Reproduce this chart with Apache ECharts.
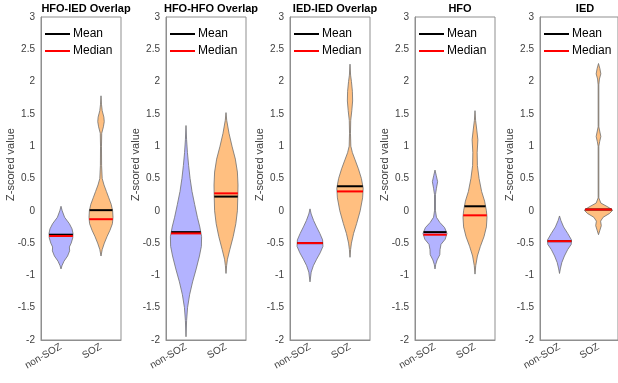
<!DOCTYPE html>
<html>
<head>
<meta charset="utf-8">
<script src="https://cdn.jsdelivr.net/npm/echarts@6/dist/echarts.min.js"></script>
<style>
  html, body { margin: 0; padding: 0; background: #fff; }
  #chart { width: 618px; height: 383px; }
</style>
</head>
<body>
<div id="chart"></div>
<script>
// panel titles and groups
const titles = ['HFO-IED Overlap', 'HFO-HFO Overlap', 'IED-IED Overlap', 'HFO', 'IED'];
const groups = ['non-SOZ', 'SOZ'];

// mean / median per panel: [non-SOZ, SOZ]
const means = [[-0.37, 0.01], [-0.33, 0.22], [-0.50, 0.38], [-0.33, 0.07], [-0.47, 0.02]];
const medians = [[-0.39, -0.13], [-0.35, 0.27], [-0.50, 0.30], [-0.37, -0.07], [-0.47, 0.02]];

// violin outlines: [z value, relative density]
const hfoIedNon = [[0.07, 0], [0.0, 0.1], [-0.1, 0.3], [-0.2, 0.7], [-0.28, 0.92], [-0.35, 1.0], [-0.42, 0.98],
  [-0.5, 0.85], [-0.56, 0.7], [-0.62, 0.72], [-0.7, 0.55], [-0.78, 0.25], [-0.85, 0.08], [-0.9, 0]];
const hfoIedSoz = [[1.78, 0], [1.65, 0.04], [1.55, 0.1], [1.45, 0.24], [1.38, 0.27], [1.3, 0.2], [1.2, 0.06],
  [1.0, 0.04], [0.7, 0.05], [0.5, 0.1], [0.4, 0.25], [0.3, 0.45], [0.2, 0.65], [0.1, 0.85], [0.0, 0.97],
  [-0.1, 1.0], [-0.2, 0.95], [-0.3, 0.75], [-0.4, 0.5], [-0.5, 0.28], [-0.6, 0.1], [-0.7, 0]];
const hfoHfoNon = [[1.32, 0], [1.1, 0.05], [0.9, 0.12], [0.7, 0.22], [0.5, 0.34], [0.3, 0.5], [0.1, 0.72],
  [-0.1, 0.95], [-0.25, 1.15], [-0.4, 1.3], [-0.55, 1.28], [-0.7, 1.12], [-0.9, 0.85], [-1.1, 0.55],
  [-1.3, 0.3], [-1.5, 0.13], [-1.7, 0.05], [-1.95, 0]];
const hfoHfoSoz = [[1.52, 0], [1.4, 0.06], [1.2, 0.25], [1.0, 0.5], [0.8, 0.78], [0.6, 0.95], [0.4, 1.0],
  [0.2, 0.98], [0.0, 0.95], [-0.2, 0.82], [-0.4, 0.6], [-0.6, 0.32], [-0.75, 0.12], [-0.85, 0.05], [-0.97, 0]];
const iedIedNon = [[0.03, 0], [-0.05, 0.1], [-0.15, 0.3], [-0.25, 0.55], [-0.35, 0.82], [-0.45, 1.05],
  [-0.55, 1.08], [-0.65, 0.85], [-0.75, 0.55], [-0.85, 0.28], [-0.95, 0.1], [-1.1, 0]];
const iedIedSoz = [[2.27, 0], [2.1, 0.05], [2.0, 0.12], [1.85, 0.2], [1.7, 0.22], [1.55, 0.15], [1.4, 0.06],
  [1.2, 0.04], [1.0, 0.07], [0.9, 0.2], [0.8, 0.4], [0.65, 0.7], [0.5, 0.95], [0.35, 1.1], [0.2, 1.05],
  [0.0, 0.85], [-0.2, 0.55], [-0.35, 0.3], [-0.5, 0.12], [-0.6, 0.05], [-0.72, 0]];
const hfoNon = [[0.63, 0], [0.55, 0.1], [0.45, 0.22], [0.35, 0.12], [0.25, 0.04], [0.0, 0.04],
  [-0.1, 0.12], [-0.18, 0.4], [-0.26, 0.8], [-0.35, 1.0], [-0.44, 0.85], [-0.52, 0.5], [-0.6, 0.42],
  [-0.68, 0.4], [-0.76, 0.18], [-0.83, 0.06], [-0.9, 0]];
const hfoSoz = [[1.55, 0], [1.4, 0.05], [1.25, 0.15], [1.1, 0.24], [0.9, 0.18], [0.7, 0.2], [0.5, 0.34],
  [0.3, 0.55], [0.15, 0.8], [0.0, 0.95], [-0.1, 1.0], [-0.25, 0.95], [-0.4, 0.75], [-0.55, 0.45],
  [-0.7, 0.2], [-0.85, 0.06], [-0.98, 0]];
const iedNon = [[-0.08, 0], [-0.15, 0.12], [-0.25, 0.35], [-0.35, 0.7], [-0.45, 1.02], [-0.52, 1.0],
  [-0.6, 0.7], [-0.7, 0.42], [-0.8, 0.2], [-0.9, 0.07], [-0.97, 0]];
const iedSoz = [[2.28, 0], [2.2, 0.12], [2.12, 0.2], [2.04, 0.08], [1.95, 0.03], [1.3, 0.03], [1.22, 0.12],
  [1.15, 0.2], [1.07, 0.1], [1.0, 0.03], [0.2, 0.03], [0.12, 0.2], [0.06, 0.8], [0.01, 1.22], [-0.04, 0.95],
  [-0.1, 0.4], [-0.16, 0.18], [-0.23, 0.24], [-0.3, 0.12], [-0.37, 0]];

const profiles = [
  [hfoIedNon, hfoIedSoz],
  [hfoHfoNon, hfoHfoSoz],
  [iedIedNon, iedIedSoz],
  [hfoNon, hfoSoz],
  [iedNon, iedSoz]
];

const fillColors = ['#b3b3ff', '#ffbf80'];
const widthScale = 0.3; // fraction of the category band at density 1
const font = "'Liberation Sans', Arial, sans-serif";

const gridLefts = [41, 166, 290, 415, 540];
const gridTop = 17;
const gridWidth = 80;
const gridHeight = 323;

function densityAt(profile, y) {
  for (let i = 0; i < profile.length - 1; i++) {
    const a = profile[i], b = profile[i + 1];
    if (y <= a[0] && y >= b[0]) {
      const t = (a[0] - y) / (a[0] - b[0]);
      return a[1] + t * (b[1] - a[1]);
    }
  }
  return 0;
}

function violinRenderer(panel) {
  return function (params, api) {
    const idx = api.value(0);
    const prof = profiles[panel][idx];
    const band = api.size([1, 0])[0];
    const cx = api.coord([idx, 0])[0];
    const left = prof.map(([y, w]) => [cx - w * widthScale * band, api.coord([idx, y])[1]]);
    const right = prof.map(([y, w]) => [cx + w * widthScale * band, api.coord([idx, y])[1]]).reverse();
    return {
      type: 'polygon',
      shape: { points: left.concat(right) },
      style: { fill: fillColors[idx], stroke: '#6e6e6e', lineWidth: 0.8 }
    };
  };
}

function statRenderer(panel) {
  return function (params, api) {
    const idx = api.value(0);
    const y = api.value(1);
    const band = api.size([1, 0])[0];
    const half = densityAt(profiles[panel][idx], y) * widthScale * band;
    const p = api.coord([idx, y]);
    return {
      type: 'line',
      shape: { x1: p[0] - half, y1: p[1], x2: p[0] + half, y2: p[1] },
      style: { stroke: api.visual('color'), lineWidth: 2 }
    };
  };
}

const grids = [], xAxes = [], yAxes = [], series = [], titleList = [], legends = [];

titles.forEach((t, i) => {
  grids.push({
    left: gridLefts[i], top: gridTop, width: gridWidth, height: gridHeight,
    show: true, borderColor: '#8f8f8f', borderWidth: 1, backgroundColor: '#fff'
  });
  xAxes.push({
    type: 'category', gridIndex: i, data: groups,
    axisLine: { onZero: false, lineStyle: { color: '#8f8f8f' } },
    axisTick: { show: false },
    axisLabel: { rotate: 30, fontSize: 10, color: '#404040', fontFamily: font, margin: 6 }
  });
  yAxes.push({
    type: 'value', gridIndex: i, min: -2, max: 3, interval: 0.5,
    name: 'Z-scored value', nameLocation: 'middle', nameGap: 25, nameMoveOverlap: false,
    nameTextStyle: { fontSize: 11, color: '#404040', fontFamily: font, padding: [0, 0, 0, 28] },
    axisLine: { show: true, lineStyle: { color: '#8f8f8f' } },
    axisTick: { show: false },
    splitLine: { show: false },
    axisLabel: { fontSize: 10, color: '#404040', fontFamily: font, margin: 6 }
  });
  titleList.push({
    text: t, left: gridLefts[i] + gridWidth / 2, top: -2, textAlign: 'center',
    textStyle: { fontSize: 11, fontWeight: 'bold', color: '#000', fontFamily: font }
  });
  legends.push({
    data: ['Mean', 'Median'], orient: 'vertical',
    left: gridLefts[i] + 4, top: 28, itemWidth: 25, itemHeight: 2, itemGap: 5,
    icon: 'rect', selectedMode: false, padding: 0,
    textStyle: { fontSize: 12, color: '#000', fontFamily: font, padding: [0, 0, 0, -2] }
  });
  series.push({
    type: 'custom', name: 'violin' + i, xAxisIndex: i, yAxisIndex: i,
    renderItem: violinRenderer(i), data: [[0, 0], [1, 0]], silent: true, clip: false
  });
  series.push({
    type: 'custom', name: 'Mean', xAxisIndex: i, yAxisIndex: i, itemStyle: { color: '#000' },
    renderItem: statRenderer(i), data: [[0, means[i][0]], [1, means[i][1]]], silent: true
  });
  series.push({
    type: 'custom', name: 'Median', xAxisIndex: i, yAxisIndex: i, itemStyle: { color: '#ff0000' },
    renderItem: statRenderer(i), data: [[0, medians[i][0]], [1, medians[i][1]]], silent: true
  });
});

const chart = echarts.init(document.getElementById('chart'), null, { renderer: 'canvas' });
chart.setOption({
  animation: false,
  backgroundColor: '#fff',
  title: titleList,
  legend: legends,
  grid: grids,
  xAxis: xAxes,
  yAxis: yAxes,
  series: series
});
</script>
</body>
</html>
